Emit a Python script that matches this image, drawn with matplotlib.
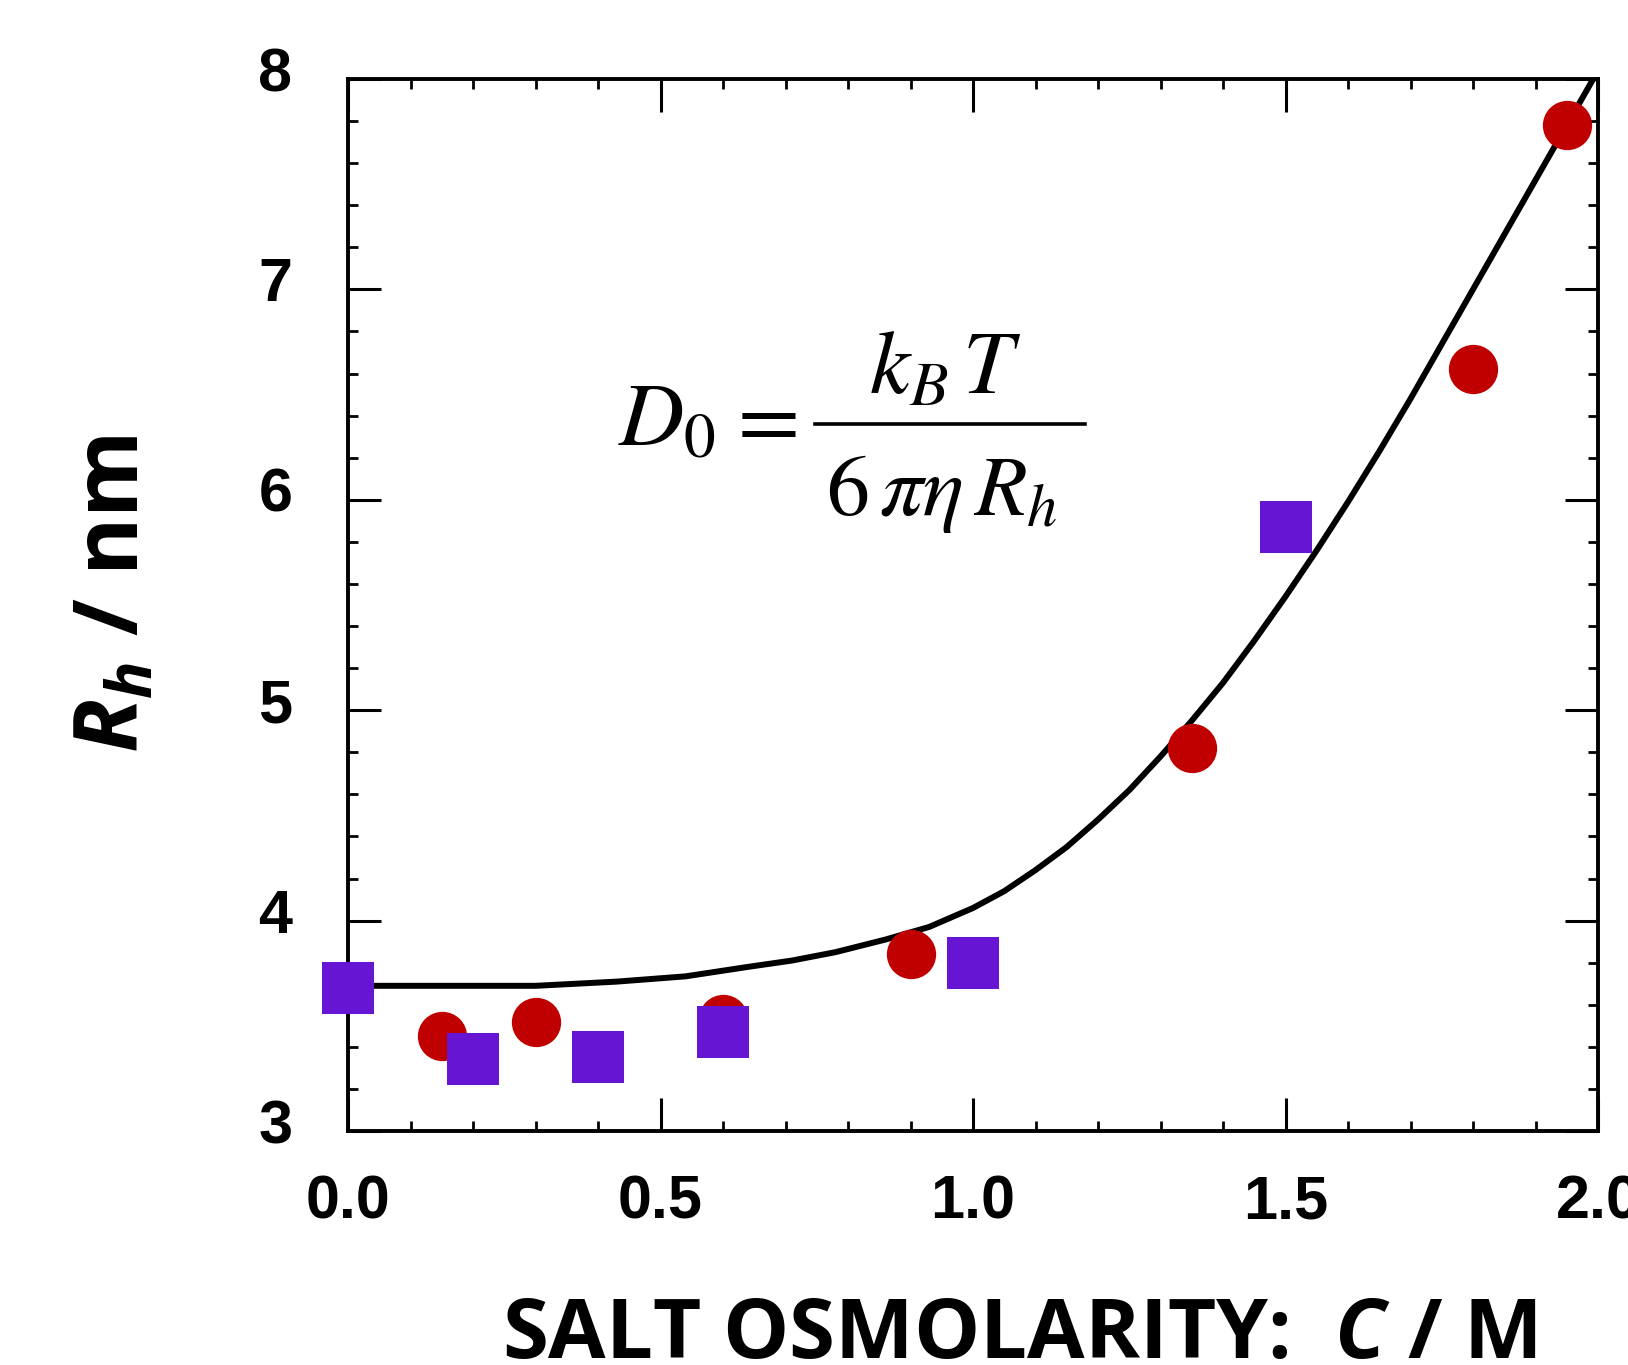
import matplotlib
matplotlib.use("Agg")
import matplotlib.pyplot as plt
from matplotlib.lines import Line2D
from matplotlib.ticker import MultipleLocator
from matplotlib.transforms import ScaledTranslation

# Data
circle_x = [0.15, 0.30, 0.60, 0.90, 1.35, 1.80, 1.95]
circle_y = [3.45, 3.52, 3.53, 3.84, 4.82, 6.62, 7.78]

square_x = [0.0, 0.20, 0.40, 0.60, 1.00, 1.50]
square_y = [3.68, 3.34, 3.35, 3.47, 3.80, 5.87]

curve_x = [0.0, 0.30, 0.43, 0.54, 0.64, 0.71, 0.78, 0.86, 0.93, 1.00, 1.05,
           1.10, 1.15, 1.20, 1.25, 1.30, 1.35, 1.40, 1.45, 1.50, 1.55, 1.60,
           1.65, 1.70, 1.75, 1.80, 1.85, 1.90, 1.95, 2.00]
curve_y = [3.69, 3.69, 3.71, 3.735, 3.78, 3.81, 3.85, 3.91, 3.97, 4.06, 4.14,
           4.24, 4.35, 4.48, 4.62, 4.78, 4.95, 5.13, 5.33, 5.54, 5.76, 5.99,
           6.23, 6.48, 6.74, 7.00, 7.26, 7.52, 7.78, 8.04]

xticks = [0.0, 0.5, 1.0, 1.5, 2.0]
xtick_labels = ["0.0", "0.5", "1.0", "1.5", "2.0"]
yticks = [3, 4, 5, 6, 7, 8]

RED = "#C00000"
PURPLE = "#6616D2"

plt.rcParams["mathtext.fontset"] = "custom"
plt.rcParams["mathtext.rm"] = "Open Sans:bold"
plt.rcParams["mathtext.it"] = "Open Sans:italic:bold"
plt.rcParams["mathtext.bf"] = "Open Sans:bold"

W, H = 1628, 1365
fig = plt.figure(figsize=(W / 100, H / 100), dpi=100)
ax = fig.add_axes([348 / W, 1 - 1131 / H, 1250 / W, 1052 / H])

ax.plot(curve_x, curve_y, color="black", lw=4.3, zorder=3, solid_joinstyle="round")
ax.plot(circle_x, circle_y, "o", ms=35.5, mew=0, color=RED, zorder=4, clip_on=False)
ax.plot(square_x, square_y, "s", ms=38, mew=0, color=PURPLE, zorder=5, clip_on=False)

ax.set_xlim(0, 2.0)
ax.set_ylim(3, 8)
ax.set_xticks(xticks)
ax.set_xticklabels(xtick_labels)
ax.set_yticks(yticks)
ax.xaxis.set_minor_locator(MultipleLocator(0.1))
ax.yaxis.set_minor_locator(MultipleLocator(0.2))

for s in ax.spines.values():
    s.set_linewidth(2.8)

ax.tick_params(which="both", direction="in", top=True, right=True)
ax.tick_params(which="major", length=24, width=2.2)
ax.tick_params(which="minor", length=7, width=2.0)
ax.tick_params(axis="x", which="major", pad=31)
ax.tick_params(axis="y", which="major", pad=40)

for lab in ax.get_xticklabels() + ax.get_yticklabels():
    lab.set_fontfamily("Liberation Sans")
    lab.set_fontweight("bold")
    lab.set_fontsize(44)

off = ScaledTranslation(0, 0.10, fig.dpi_scale_trans)
for lab in ax.get_yticklabels():
    lab.set_transform(lab.get_transform() + off)

# axis titles
fig.text(1019 / W, 1 - 1358 / H, r"SALT OSMOLARITY:  $C$ / M",
         fontfamily="Open Sans", fontweight="bold", fontsize=60,
         ha="center", va="baseline")
fig.text(138 / W, 1 - 594 / H, r"$R_h$ / nm",
         fontfamily="Open Sans", fontweight="bold", fontsize=64,
         rotation=90, rotation_mode="anchor", ha="center", va="baseline")

# Stokes-Einstein relation, laid out piece by piece
eq = dict(math_fontfamily="stix", va="baseline")
fig.text(618 / W, 1 - 446 / H, r"$D_{0}$", fontsize=65, ha="left", **eq)
fig.text(760 / W, 1 - 446 / H, r"$=$", fontsize=65, ha="center", **eq)
fig.text(945 / W, 1 - 393 / H, r"$k_{B}\,T$", fontsize=65, ha="center", **eq)
fig.text(942 / W, 1 - 515 / H, r"$6\,\pi\eta\,R_{h}$", fontsize=62, ha="center", **eq)
fig.add_artist(Line2D([815 / W, 1085 / W], [1 - 424 / H, 1 - 424 / H],
                      color="black", lw=2.6, transform=fig.transFigure))

fig.savefig("out.png", dpi=100)
